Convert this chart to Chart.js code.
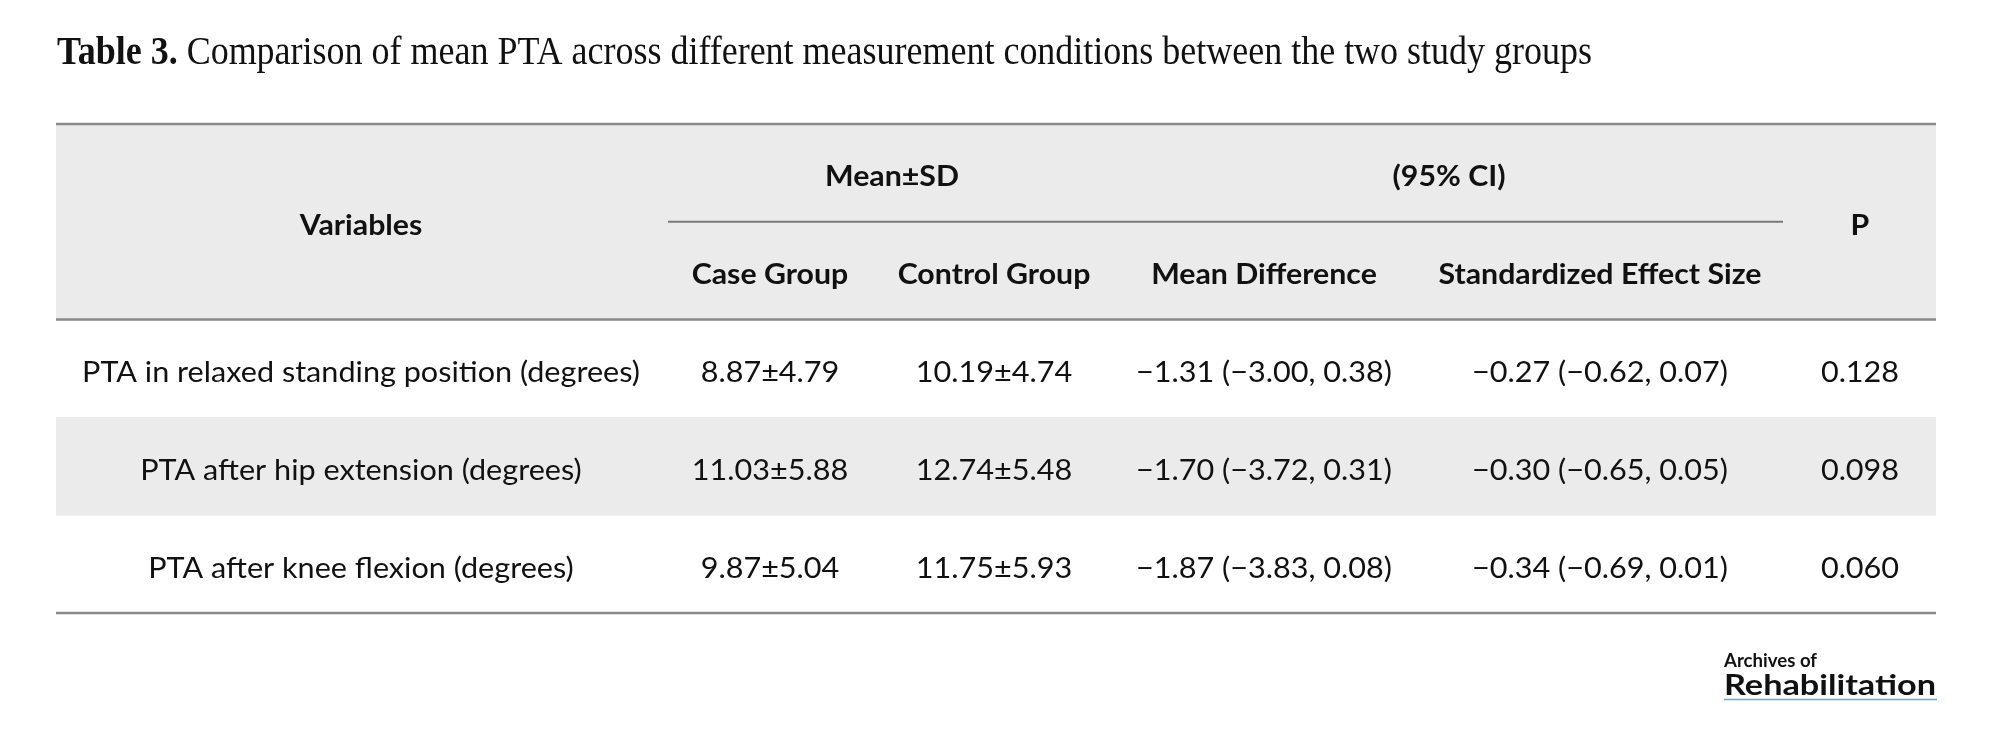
<!DOCTYPE html>
<html>
<head>
<meta charset="utf-8">
<script src="https://cdn.jsdelivr.net/npm/chart.js@4"></script>
<style>
  html, body { margin: 0; padding: 0; background: #ffffff; }
  canvas { display: block; }
</style>
</head>
<body>
<canvas id="table" width="2000" height="742"></canvas>
<script>
// table content
const titleBold = "Table 3.";
const titleText = " Comparison of mean PTA across different measurement conditions between the two study groups";
const variables = [
  "PTA in relaxed standing position (degrees)",
  "PTA after hip extension (degrees)",
  "PTA after knee flexion (degrees)",
];
const caseMean = [8.87, 11.03, 9.87];
const caseSD = [4.79, 5.88, 5.04];
const controlMean = [10.19, 12.74, 11.75];
const controlSD = [4.74, 5.48, 5.93];
const meanDiff = [-1.31, -1.70, -1.87];
const meanDiffLow = [-3.00, -3.72, -3.83];
const meanDiffHigh = [0.38, 0.31, 0.08];
const effectSize = [-0.27, -0.30, -0.34];
const effectLow = [-0.62, -0.65, -0.69];
const effectHigh = [0.07, 0.05, 0.01];
const pValues = [0.128, 0.098, 0.060];
const groupHeaders = ["Mean±SD", "(95% CI)"];
const subHeaders = ["Case Group", "Control Group", "Mean Difference", "Standardized Effect Size"];

// layout (px inside the table, table runs from 56 to 1936)
const tableWidth = 1880;
const colCenters = [305, 714, 938, 1208, 1544, 1804];
const groupCenters = [836, 1393];
const subRule = [612, 1727];

const fmt = (v, d) => (v < 0 ? "\u2212" : "") + Math.abs(v).toFixed(d);
const ci = (m, lo, hi) => `${fmt(m, 2)} (${fmt(lo, 2)}, ${fmt(hi, 2)})`;

const rowKeys = ["head1", "head2", ...variables];
const shading = rowKeys.map((key, i) =>
  i < 2 || (i - 2) % 2 === 1 ? [0, tableWidth] : null
);

function fitScale(ctx, font, text, target) {
  ctx.save();
  ctx.font = font;
  const w = ctx.measureText(text).width;
  ctx.restore();
  return target / w;
}

function drawText(ctx, text, x, y, font, sx, align) {
  ctx.save();
  ctx.font = font;
  ctx.fillStyle = "#111111";
  ctx.textAlign = align || "center";
  ctx.textBaseline = "alphabetic";
  ctx.translate(x, y);
  ctx.scale(sx, 1);
  ctx.fillText(text, 0, 0);
  ctx.restore();
}

const tablePlugin = {
  id: "tableText",
  afterDatasetsDraw(chart) {
    const ctx = chart.ctx;
    const xs = chart.scales.x;
    const ys = chart.scales.y;
    const band = ys.getPixelForValue(1) - ys.getPixelForValue(0);
    const edge = (i) => ys.getPixelForValue(i) - band / 2;
    const left = xs.getPixelForValue(0);
    const right = xs.getPixelForValue(tableWidth);

    const regular = "28px Lato";
    const bold = "bold 28px Lato";
    const sxReg = fitScale(ctx, regular, variables[0], 558);
    const sxBold = fitScale(ctx, bold, subHeaders[3], 323);

    // title
    const serifBold = "bold 41px 'Liberation Serif'";
    const serif = "41px 'Liberation Serif'";
    ctx.save();
    ctx.font = serifBold;
    const wBold = ctx.measureText(titleBold).width;
    ctx.font = serif;
    const wReg = ctx.measureText(titleText).width;
    ctx.restore();
    const sxTitle = 1535 / (wBold + wReg);
    drawText(ctx, titleBold, 57, 64, serifBold, sxTitle, "left");
    drawText(ctx, titleText, 57 + wBold * sxTitle, 64, serif, sxTitle, "left");

    // rules
    ctx.save();
    ctx.strokeStyle = "#8a8a8a";
    ctx.lineWidth = 2.5;
    [0, 2, rowKeys.length].forEach((i) => {
      ctx.beginPath();
      ctx.moveTo(left, edge(i));
      ctx.lineTo(right, edge(i));
      ctx.stroke();
    });
    ctx.lineWidth = 2;
    ctx.strokeStyle = "#7a7a7a";
    ctx.beginPath();
    ctx.moveTo(xs.getPixelForValue(subRule[0]), edge(1));
    ctx.lineTo(xs.getPixelForValue(subRule[1]), edge(1));
    ctx.stroke();
    ctx.restore();

    const base = 13.5;
    // header
    drawText(ctx, "Variables", xs.getPixelForValue(colCenters[0]), edge(1) + base, bold, sxBold);
    drawText(ctx, "P", xs.getPixelForValue(colCenters[5]), edge(1) + base, bold, sxBold);
    groupHeaders.forEach((h, i) => {
      drawText(ctx, h, xs.getPixelForValue(groupCenters[i]), ys.getPixelForValue(0) + base, bold, sxBold);
    });
    subHeaders.forEach((h, i) => {
      drawText(ctx, h, xs.getPixelForValue(colCenters[i + 1]), ys.getPixelForValue(1) + base, bold, sxBold);
    });

    // body
    variables.forEach((v, r) => {
      const y = ys.getPixelForValue(r + 2) + base;
      const cells = [
        v,
        `${caseMean[r].toFixed(2)}±${caseSD[r].toFixed(2)}`,
        `${controlMean[r].toFixed(2)}±${controlSD[r].toFixed(2)}`,
        ci(meanDiff[r], meanDiffLow[r], meanDiffHigh[r]),
        ci(effectSize[r], effectLow[r], effectHigh[r]),
        pValues[r].toFixed(3),
      ];
      cells.forEach((c, k) => {
        drawText(ctx, c, xs.getPixelForValue(colCenters[k]), y, regular, sxReg);
      });
    });

    // journal mark
    const smallFont = "bold 18px Lato";
    const logoFont = "bold 29px Lato";
    drawText(ctx, "Archives of", 1724, 667, smallFont, fitScale(ctx, smallFont, "Archives of", 93), "left");
    drawText(ctx, "Rehabilitation", 1724, 695, logoFont, fitScale(ctx, logoFont, "Rehabilitation", 212), "left");
    ctx.save();
    ctx.strokeStyle = "#5aaedb";
    ctx.lineWidth = 1.5;
    ctx.beginPath();
    ctx.moveTo(1724, 699.5);
    ctx.lineTo(1937, 699.5);
    ctx.stroke();
    ctx.restore();
  },
};

new Chart(document.getElementById("table"), {
  type: "bar",
  data: {
    labels: rowKeys,
    datasets: [
      {
        data: shading,
        backgroundColor: "#ebebeb",
        borderWidth: 0,
        barPercentage: 1,
        categoryPercentage: 1,
      },
    ],
  },
  options: {
    indexAxis: "y",
    responsive: false,
    animation: false,
    devicePixelRatio: 1,
    layout: { padding: { left: 56, right: 64, top: 124, bottom: 129 } },
    plugins: {
      legend: { display: false },
      tooltip: { enabled: false },
    },
    scales: {
      x: { type: "linear", min: 0, max: tableWidth, display: false },
      y: { display: false, offset: true },
    },
  },
  plugins: [tablePlugin],
});
</script>
</body>
</html>
